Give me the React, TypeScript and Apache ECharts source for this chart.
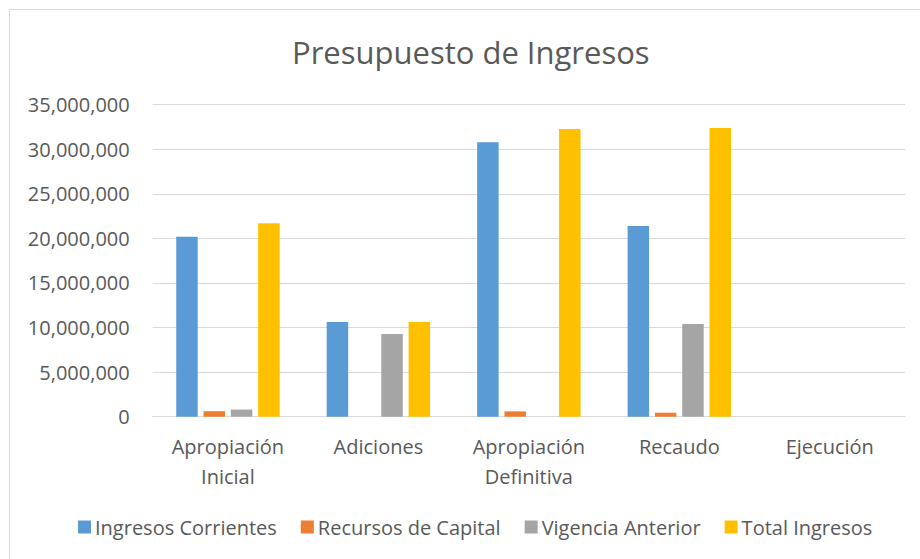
import React, { useEffect, useRef } from "react";
import * as echarts from "echarts";

const categories = ["Apropiación\nInicial", "Adiciones", "Apropiación\nDefinitiva", "Recaudo", "Ejecución"];
const ingresosCorrientes = [20190000, 10620000, 30800000, 21390000, 0];
const recursosCapital = [620000, 0, 600000, 450000, 0];
const vigenciaAnterior = [800000, 9280000, 0, 10400000, 0];
const totalIngresos = [21700000, 10620000, 32270000, 32380000, 0];
const seriesNames = ["Ingresos Corrientes", "Recursos de Capital", "Vigencia Anterior", "Total Ingresos"];
const colors = ["#5B9BD5", "#ED7D31", "#A5A5A5", "#FFC000"];

const FONT = "Open Sans";
const TEXT = "#595959";

export default function App() {
  const ref = useRef<HTMLDivElement>(null);
  useEffect(() => {
    if (!ref.current) return;
    const chart = echarts.init(ref.current, undefined, { renderer: "svg" });
    const data = [ingresosCorrientes, recursosCapital, vigenciaAnterior, totalIngresos];
    chart.setOption({
      animation: false,
      backgroundColor: "#ffffff",
      textStyle: { fontFamily: FONT },
      title: {
        text: "Presupuesto de Ingresos",
        left: 292,
        top: 36,
        padding: 0,
        textStyle: { fontFamily: FONT, fontSize: 31, fontWeight: "normal", color: TEXT },
      },
      graphic: [
        {
          type: "rect",
          shape: { x: 9.5, y: 9.5, width: 940, height: 600 },
          style: { fill: "none", stroke: "#D9D9D9", lineWidth: 1 },
          silent: true,
        },
      ],
      legend: {
        left: 78,
        top: 517,
        padding: 0,
        itemWidth: 13,
        itemHeight: 13,
        itemGap: 24,
        icon: "rect",
        textStyle: { fontFamily: FONT, fontSize: 20, color: TEXT, padding: [0, 0, 0, -1] },
        data: seriesNames,
      },
      grid: { left: 152.7, right: 15, top: 104.7, bottom: 142.3, containLabel: false },
      xAxis: {
        type: "category",
        data: categories,
        axisLine: { show: true, lineStyle: { color: "#D9D9D9", width: 1 } },
        axisTick: { show: false },
        axisLabel: {
          fontFamily: FONT,
          fontSize: 20,
          lineHeight: 30,
          color: TEXT,
          margin: 15,
          interval: 0,
        },
      },
      yAxis: {
        type: "value",
        min: 0,
        max: 35000000,
        interval: 5000000,
        axisLine: { show: false },
        axisTick: { show: false },
        splitLine: { lineStyle: { color: "#D9D9D9", width: 1 } },
        axisLabel: {
          fontFamily: FONT,
          fontSize: 20,
          color: TEXT,
          margin: 23,
          formatter: (v: number) => v.toLocaleString("en-US"),
        },
      },
      series: seriesNames.map((name, i) => ({
        name,
        type: "bar",
        data: data[i],
        barWidth: 21.5,
        barGap: "27%",
        itemStyle: { color: colors[i] },
      })),
    });
    return () => chart.dispose();
  }, []);
  return (
    <div
      ref={ref}
      style={{ position: "absolute", left: 0, top: 0, width: 920, height: 559 }}
    />
  );
}
